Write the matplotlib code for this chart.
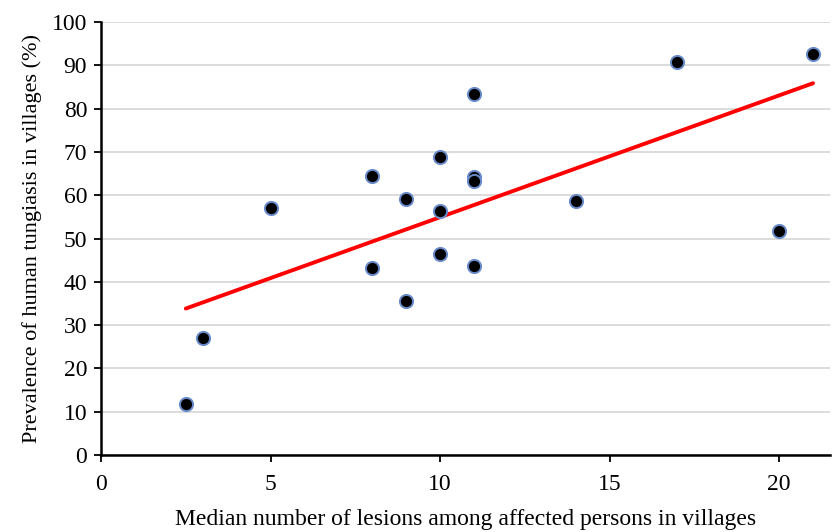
import numpy as np
import matplotlib.pyplot as plt

# Datos
lesions = [2.5, 3, 5, 8, 8, 9, 9, 10, 10, 10, 11, 11, 11, 11, 14, 17, 20, 21]
prevalence = [11.8, 27.0, 57.0, 64.4, 43.2, 59.2, 35.6, 68.9, 56.4, 46.5,
              83.3, 64.3, 63.3, 43.6, 58.7, 90.8, 51.7, 92.5]

x_ticks = [0, 5, 10, 15, 20]
y_ticks = list(range(0, 101, 10))

plt.rcParams['font.family'] = ['Liberation Serif', 'DejaVu Serif']

fig = plt.figure(figsize=(8.33, 5.32), dpi=100)
ax = fig.add_axes([0.1213, 0.1447, 0.8751, 0.8139])

# Recta de regresion
x = np.array(lesions)
y = np.array(prevalence)
slope, intercept = np.polyfit(x, y, 1)
xl = np.array([x.min(), x.max()])
ax.plot(xl, slope * xl + intercept, color='#ff0000', lw=2.8, zorder=3,
        solid_capstyle='round')

ax.plot(x, y, 'o', color='black', markersize=9.5, markeredgecolor='#6a8ccc',
        markeredgewidth=1.4, zorder=4)

ax.set_xlim(0, 21.5)
ax.set_ylim(0, 100)
ax.set_xticks(x_ticks)
ax.set_yticks(y_ticks)
ax.yaxis.grid(True, color='#d9d9d9', lw=1.3)
ax.set_axisbelow(True)

for s in ['top', 'right']:
    ax.spines[s].set_visible(False)
for s in ['left', 'bottom']:
    ax.spines[s].set_linewidth(1.8)
ax.tick_params(direction='out', length=5, width=1.3, labelsize=17, pad=5)
ax.tick_params(axis='x', pad=9)

ax.set_xlabel('Median number of lesions among affected persons in villages',
              fontsize=17, labelpad=10)
ax.set_ylabel('Prevalence of human tungiasis in villages (%)',
              fontsize=16, labelpad=7)

fig.savefig('out.png', dpi=100)
